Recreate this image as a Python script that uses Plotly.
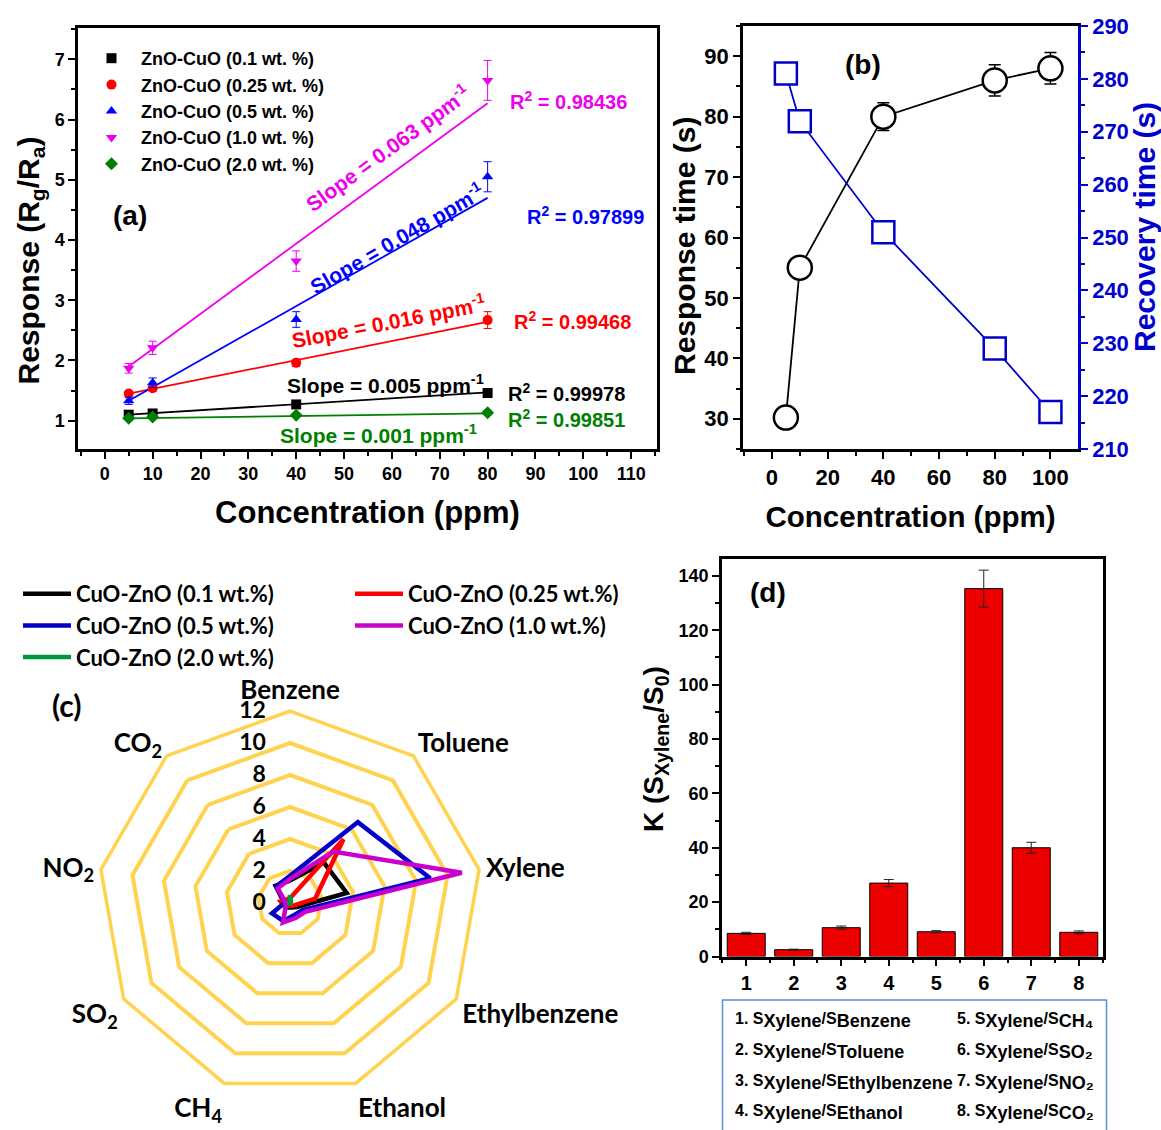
import plotly.graph_objects as go

# ================= DATA =================
# ---- Panel (a): response vs concentration ----
conc_a = [5, 10, 40, 80]
names_a = ["ZnO-CuO (0.1 wt. %)", "ZnO-CuO (0.25 wt. %)", "ZnO-CuO (0.5 wt. %)",
           "ZnO-CuO (1.0 wt. %)", "ZnO-CuO (2.0 wt. %)"]
resp_01 = [1.10, 1.12, 1.27, 1.46]
resp_025 = [1.45, 1.54, 1.96, 2.67]
resp_05 = [1.33, 1.63, 2.68, 5.05]
resp_10 = [1.87, 2.21, 3.65, 6.65]
resp_20 = [1.04, 1.06, 1.09, 1.13]
err_01 = [0.02, 0.02, 0.03, 0.03]
err_025 = [0.04, 0.05, 0.06, 0.14]
err_05 = [0.06, 0.08, 0.13, 0.25]
err_10 = [0.08, 0.11, 0.17, 0.33]
err_20 = [0.02, 0.02, 0.02, 0.03]
fit_x = [5, 80]
fit_01 = [1.10, 1.47]
fit_025 = [1.45, 2.64]
fit_05 = [1.33, 4.70]
fit_10 = [1.90, 6.27]
fit_20 = [1.04, 1.12]
slopes_a = ["0.005", "0.016", "0.048", "0.063", "0.001"]
r2_a = ["0.99978", "0.99468", "0.97899", "0.98436", "0.99851"]
x_ticks_a = list(range(0, 111, 10))

# ---- Panel (b): response / recovery time ----
conc_b = [5, 10, 40, 80, 100]
response_time = [30.2, 55, 80, 86, 88]
response_err = [1.0, 1.0, 2.3, 2.6, 2.6]
recovery_time = [281, 272, 251, 229, 217]
recovery_err = [2.0, 2.0, 1.6, 1.3, 1.2]

# ---- Panel (c): radar ----
radar_cats = ["Benzene", "Toluene", "Xylene", "Ethylbenzene", "Ethanol",
              "CH4", "SO2", "NO2", "CO2"]
radar_labels = ["Benzene", "Toluene", "Xylene", "Ethylbenzene", "Ethanol",
                "CH<sub>4</sub>", "SO<sub>2</sub>", "NO<sub>2</sub>", "CO<sub>2</sub>"]
names_c = ["CuO-ZnO (0.1 wt.%)", "CuO-ZnO (0.25 wt.%)", "CuO-ZnO (0.5 wt.%)",
           "CuO-ZnO (1.0 wt.%)", "CuO-ZnO (2.0 wt.%)"]
radar_01 = [1.4, 3.3, 3.6, 0.5, 0.3, 0.3, 0.3, 0.4, 1.4]
radar_025 = [0.3, 5.2, 1.6, 0.3, 0.2, 0.2, 0.4, 0.6, 0.3]
radar_05 = [1.7, 6.6, 8.9, 0.9, 0.8, 1.2, 1.3, 0.3, 1.35]
radar_10 = [1.5, 4.2, 10.9, 1.1, 1.0, 1.3, 0.3, 0.3, 1.2]
radar_20 = [0.5, 0.1, 0.05, 0.05, 0.05, 0.05, 0.05, 0.05, 0.05]

# ---- Panel (d): selectivity ----
k_index = [1, 2, 3, 4, 5, 6, 7, 8]
k_values = [8.5, 2.5, 10.6, 27.0, 9.1, 135.3, 40.0, 8.9]
k_err = [0.4, 0.2, 0.6, 1.3, 0.4, 6.8, 2.0, 0.5]
k_num = ["1.", "2.", "3.", "4.", "5.", "6.", "7.", "8."]
k_gas = ["Benzene", "Toluene", "Ethylbenzene", "Ethanol",
         "CH₄", "SO₂", "NO₂", "CO₂"]

# ================= STYLE =================
W, H = 1161, 1130
FA = "Liberation Sans, Arial, sans-serif"
FC = "Lato, Carlito, sans-serif"
col_a = ["#000000", "#FF0000", "#0000FF", "#EE00EE", "#008000"]
sym_a = ["square", "circle", "triangle-up", "triangle-down", "diamond"]
col_c = ["#000000", "#FF0000", "#0000C8", "#CC00CC", "#00963C"]
BLUE_B = "#0000CC"
YEL = "#FFD350"
EM = "\u2003"
THIN = "\u2009"


def bf(size, color="black", family=FA):
    return dict(family=family, size=size, color=color, weight="bold")


def px_dom_x(a, b):
    return [a / W, b / W]


def px_dom_y(top, bottom):
    return [1 - bottom / H, 1 - top / H]


fig = go.Figure()

# ---------------- Panel (a) ----------------
resp_a = [resp_01, resp_025, resp_05, resp_10, resp_20]
err_a = [err_01, err_025, err_05, err_10, err_20]
fits_a = [fit_01, fit_025, fit_05, fit_10, fit_20]
for i in range(5):
    fig.add_trace(go.Scatter(x=fit_x, y=fits_a[i], mode="lines",
                             line=dict(color=col_a[i], width=1.8),
                             showlegend=False, hoverinfo="skip",
                             xaxis="x", yaxis="y"))
for i in range(5):
    fig.add_trace(go.Scatter(x=conc_a, y=resp_a[i], mode="markers", name=names_a[i],
                             marker=dict(symbol=sym_a[i], size=10, color=col_a[i]),
                             error_y=dict(type="data", array=err_a[i], color=col_a[i],
                                          thickness=1, width=4),
                             legend="legend", legendgroup="a%d" % i,
                             xaxis="x", yaxis="y"))

# ---------------- Panel (b) ----------------
fig.add_trace(go.Scatter(x=conc_b, y=response_time, mode="lines+markers",
                         line=dict(color="black", width=1.8),
                         marker=dict(symbol="circle", size=24, color="white",
                                     line=dict(color="black", width=2.5)),
                         error_y=dict(type="data", array=response_err, color="black",
                                      thickness=1.5, width=6),
                         showlegend=False, xaxis="x2", yaxis="y2"))
fig.add_trace(go.Scatter(x=conc_b, y=recovery_time, mode="lines+markers",
                         line=dict(color=BLUE_B, width=1.8),
                         marker=dict(symbol="square", size=22, color="white",
                                     line=dict(color=BLUE_B, width=2.5)),
                         error_y=dict(type="data", array=recovery_err, color=BLUE_B,
                                      thickness=1.5, width=6),
                         showlegend=False, xaxis="x2", yaxis="y3"))

# ---------------- Panel (c) ----------------
radar_vals = [radar_01, radar_025, radar_05, radar_10, radar_20]
legend_c = ["legend2", "legend3", "legend2", "legend3", "legend2"]
for i in range(5):
    fig.add_trace(go.Scatterpolar(r=radar_vals[i] + radar_vals[i][:1],
                                  theta=radar_cats + radar_cats[:1],
                                  mode="lines", name=names_c[i],
                                  line=dict(color=col_c[i], width=4.5),
                                  legend=legend_c[i], legendgroup="c%d" % i,
                                  subplot="polar"))

# ---------------- Panel (d) ----------------
fig.add_trace(go.Bar(x=k_index, y=k_values, width=0.8,
                     marker=dict(color="#EE0000", line=dict(color="black", width=1)),
                     error_y=dict(type="data", array=k_err, color="#222222",
                                  thickness=1, width=5),
                     showlegend=False, xaxis="x3", yaxis="y4"))

# ================= LAYOUT =================
axline = dict(showline=True, linewidth=2.5, linecolor="black", mirror=True,
              showgrid=False, zeroline=False, ticks="outside", tickwidth=2,
              ticklen=7, tickcolor="black")
inner = dict(showline=False, showgrid=False, zeroline=False, ticks="inside",
             tickwidth=2, ticklen=7, tickcolor="black", showticklabels=False)

dxa = px_dom_x(78, 657)
dya = px_dom_y(28, 449)
dxb = px_dom_x(743, 1078)
dyb = px_dom_y(26, 449)
dxd = px_dom_x(722, 1103)
dyd = px_dom_y(559, 956.5)

rx_a = [-5.6, 115.4]
ry_a = [0.53, 7.52]
rx_b = [-10.4, 109.9]
ry_b = [25, 95]
ry_b2 = [210, 290]
rx_d = [0.49, 8.51]
ry_d = [0, 146.2]

layout = dict(
    width=W, height=H, margin=dict(l=0, r=0, t=0, b=0),
    paper_bgcolor="white", plot_bgcolor="white", template="none",
    font=dict(family=FA, color="black"),
    # (a)
    xaxis=dict(axline, domain=dxa, anchor="y", range=rx_a, tickvals=x_ticks_a,
               tickfont=bf(18), minor=dict(dtick=5, ticklen=4, tickwidth=2, ticks="outside"),
               title=dict(text="Concentration (ppm)", font=bf(31), standoff=18)),
    yaxis=dict(axline, domain=dya, anchor="x", range=ry_a, dtick=1,
               tickfont=bf(18), minor=dict(dtick=0.5, ticklen=4, tickwidth=2, ticks="outside")),
    xaxis5=dict(inner, overlaying="x", side="top", anchor="y", range=rx_a, dtick=10,
                minor=dict(dtick=5, ticklen=4, tickwidth=2, ticks="inside")),
    yaxis5=dict(inner, overlaying="y", side="right", anchor="x", range=ry_a, dtick=1,
                minor=dict(dtick=0.5, ticklen=4, tickwidth=2, ticks="inside")),
    # (b)
    xaxis2=dict(axline, domain=dxb, anchor="y2", range=rx_b, dtick=20,
                tickfont=bf(22), minor=dict(dtick=10, ticklen=4, tickwidth=2, ticks="outside"),
                title=dict(text="Concentration (ppm)", font=bf(29.5), standoff=18)),
    yaxis2=dict(axline, domain=dyb, anchor="x2", range=ry_b, dtick=10, mirror=False,
                tickfont=bf(22), minor=dict(dtick=5, ticklen=4, tickwidth=2, ticks="outside")),
    yaxis3=dict(showline=True, linewidth=2.5, linecolor=BLUE_B, showgrid=False,
                zeroline=False, ticks="outside", tickwidth=2, ticklen=7, tickcolor=BLUE_B,
                overlaying="y2", side="right", anchor="x2", range=ry_b2, dtick=10,
                tickfont=bf(22, BLUE_B),
                minor=dict(dtick=5, ticklen=4, tickwidth=2, ticks="outside", tickcolor=BLUE_B)),
    xaxis6=dict(inner, overlaying="x2", side="top", anchor="y2", range=rx_b, dtick=10),
    # (d)
    xaxis3=dict(axline, domain=dxd, anchor="y4", range=rx_d, dtick=1,
                tickfont=bf(20), minor=dict(dtick=0.5, ticklen=4, tickwidth=2, ticks="outside")),
    yaxis4=dict(axline, domain=dyd, anchor="x3", range=ry_d, dtick=20,
                tickfont=bf(18), minor=dict(dtick=10, ticklen=4, tickwidth=2, ticks="outside")),
    xaxis7=dict(inner, overlaying="x3", side="top", anchor="y4", range=rx_d, dtick=1,
                minor=dict(dtick=0.5, ticklen=4, tickwidth=2, ticks="inside")),
    yaxis7=dict(inner, overlaying="y4", side="right", anchor="x3", range=ry_d, dtick=20,
                minor=dict(dtick=10, ticklen=4, tickwidth=2, ticks="inside")),
    # (c) polar
    polar=dict(
        domain=dict(x=px_dom_x(98, 482), y=px_dom_y(711, 1095)),
        bgcolor="white", gridshape="linear",
        angularaxis=dict(direction="clockwise", rotation=90, showgrid=False,
                         showline=True, linecolor=YEL, linewidth=3.5, ticks="",
                         tickmode="array", tickvals=radar_cats, ticktext=radar_labels,
                         tickfont=bf(26, family=FC)),
        radialaxis=dict(range=[0, 12], dtick=2, angle=90, showline=False,
                        gridcolor=YEL, gridwidth=3.5, ticks="", side="counterclockwise",
                        tickangle=90, ticksuffix=EM + THIN,
                        tickfont=bf(23, family=FC)),
    ),
    legend=dict(x=82 / W, y=1 - 40 / H, xanchor="left", yanchor="top",
                bgcolor="rgba(0,0,0,0)", font=bf(18), tracegroupgap=0,
                itemwidth=49),
    legend2=dict(x=18 / W, y=1 - 573 / H, xanchor="left", yanchor="top",
                 bgcolor="rgba(0,0,0,0)", font=bf(22, family=FC), tracegroupgap=0,
                 itemwidth=48),
    legend3=dict(x=350 / W, y=1 - 573 / H, xanchor="left", yanchor="top",
                 bgcolor="rgba(0,0,0,0)", font=bf(22, family=FC), tracegroupgap=0,
                 itemwidth=48),
)
fig.update_layout(**layout)

# ================= ANNOTATIONS =================
ann = []
# vertical axis titles
ann.append(dict(x=29.5 / W, y=1 - 261 / H, xref="paper", yref="paper", textangle=-90,
                xanchor="center", yanchor="middle", showarrow=False,
                text="Response (R<sub>g</sub>/R<sub>a</sub>)", font=bf(30)))
ann.append(dict(x=685 / W, y=1 - 246 / H, xref="paper", yref="paper", textangle=-90,
                xanchor="center", yanchor="middle", showarrow=False,
                text="Response time (s)", font=bf(30)))
ann.append(dict(x=1145 / W, y=1 - 227 / H, xref="paper", yref="paper", textangle=-90,
                xanchor="center", yanchor="middle", showarrow=False,
                text="Recovery time (s)", font=bf(30, BLUE_B)))
ann.append(dict(x=655 / W, y=1 - 749 / H, xref="paper", yref="paper", textangle=-90,
                xanchor="center", yanchor="middle", showarrow=False,
                text="K (S<sub>Xylene</sub>/S<sub>0</sub>)", font=bf(28)))

# panel labels
ann.append(dict(x=5.3, y=4.41, xref="x", yref="y", text="(a)", showarrow=False, font=bf(28)))
ann.append(dict(x=32.6, y=88.6, xref="x2", yref="y2", text="(b)", showarrow=False, font=bf(28)))
ann.append(dict(x=67 / W, y=1 - 705 / H, xref="paper", yref="paper", xanchor="center",
                yanchor="middle", text="(c)", showarrow=False, font=bf(30, family=FC)))
ann.append(dict(x=1.46, y=134, xref="x3", yref="y4", text="(d)", showarrow=False, font=bf(28)))

# slope labels (panel a)
slope_pos = [(58.7, 1.61, 0), (59.2, 2.66, -11), (61.0, 4.04, -30), (59.0, 5.53, -36),
             (57.3, 0.78, 0)]
for i in range(5):
    x, y, ang = slope_pos[i]
    ann.append(dict(x=x, y=y, xref="x", yref="y", showarrow=False, textangle=ang,
                    text="Slope = %s ppm<sup>-1</sup>" % slopes_a[i], font=bf(21, col_a[i])))
r2_pos = [(96.4, 1.47), (97.7, 2.66), (100.4, 4.41), (96.9, 6.32), (96.4, 1.04)]
for i in range(5):
    x, y = r2_pos[i]
    ann.append(dict(x=x, y=y, xref="x", yref="y", showarrow=False,
                    text="R<sup>2</sup> = %s" % r2_a[i], font=bf(20, col_a[i])))

# key box for panel (d)
SUB = "<sub><span style='font-size:18px'>%s</span></sub>"
key_rows = [1 - 1020 / H, 1 - 1051 / H, 1 - 1082 / H, 1 - 1112 / H]
for i in range(8):
    col = 0 if i < 4 else 1
    txt = k_num[i] + " S" + SUB % "Xylene" + "/S" + SUB % k_gas[i]
    ann.append(dict(x=(733 if col == 0 else 955) / W, y=key_rows[i % 4],
                    xref="paper", yref="paper", xanchor="left", yanchor="middle",
                    showarrow=False, text=txt, font=bf(16)))
fig.update_layout(annotations=ann)

fig.add_shape(type="rect", xref="paper", yref="paper",
              x0=722.5 / W, x1=1106.5 / W, y0=-0.02, y1=1 - 1000 / H,
              line=dict(color="#5B8FD6", width=1.5), fillcolor="rgba(0,0,0,0)")

fig.write_html("out.html")
